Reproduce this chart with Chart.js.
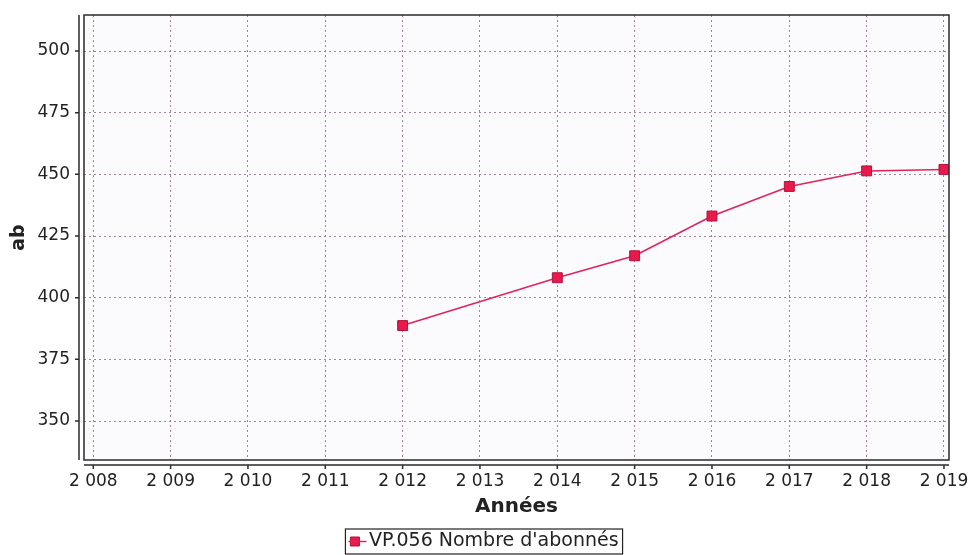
<!DOCTYPE html>
<html>
<head>
<meta charset="utf-8">
<script src="https://cdn.jsdelivr.net/npm/chart.js@4/dist/chart.umd.min.js"></script>
<style>
  html, body { margin: 0; padding: 0; background: #fff; }
  #wrap { width: 973px; height: 555px; }
</style>
</head>
<body>
<div id="wrap"><canvas id="chart" width="973" height="555"></canvas></div>
<script>
const years = [2012, 2014, 2015, 2016, 2017, 2018, 2019];
const subscribers = [388.7, 408.1, 417, 433.1, 445.1, 451.4, 452];
const seriesName = "VP.056 Nombre d'abonnés";
const xTitle = "Années";
const yTitle = "ab";

const font = "'DejaVu Sans', Verdana, sans-serif";

// thousands separated by a space, like "2 008"
function spaced(v) {
    return String(v).replace(/\B(?=(\d{3})+(?!\d))/g, " ");
}

// frame around the plot, detached axis lines and the legend box
const frame = {
    id: "frame",
    afterLayout(chart) {
        // nudge the legend a bit to the right, as in the original
        const lg = chart.legend;
        lg.left += 10;
        lg.right += 10;
        (lg.legendHitBoxes || []).forEach(b => { b.left += 10; });
    },
    beforeDraw(chart) {
        const { ctx, chartArea: a } = chart;
        ctx.save();
        ctx.fillStyle = "#fbfafd";
        ctx.fillRect(a.left, a.top, a.right - a.left, a.bottom - a.top);
        ctx.restore();
    },
    afterDraw(chart) {
        const { ctx, chartArea: a, scales } = chart;
        ctx.save();
        ctx.strokeStyle = "#2b2b2b";
        ctx.lineWidth = 1.5;
        ctx.strokeRect(a.left, a.top, a.right - a.left, a.bottom - a.top);

        // y axis line, shifted left of the frame
        const ax = a.left - 5;
        ctx.beginPath();
        ctx.moveTo(ax, a.top);
        ctx.lineTo(ax, a.bottom);
        scales.y.ticks.forEach(t => {
            const py = scales.y.getPixelForValue(t.value);
            ctx.moveTo(ax, py);
            ctx.lineTo(ax - 4, py);
        });
        // x axis line, shifted below the frame
        const ay = a.bottom + 5;
        ctx.moveTo(a.left, ay);
        ctx.lineTo(a.right, ay);
        scales.x.ticks.forEach(t => {
            const px = scales.x.getPixelForValue(t.value);
            ctx.moveTo(px, ay);
            ctx.lineTo(px, ay + 4);
        });
        ctx.stroke();

        // legend box
        const boxes = chart.legend.legendHitBoxes;
        if (boxes && boxes.length) {
            const b = boxes[0];
            const cy = b.top + b.height / 2;
            ctx.lineWidth = 1.2;
            ctx.strokeStyle = "#222";
            ctx.strokeRect(b.left - 5, cy - 12.5, b.width + 9, 25);
            // line through the marker
            ctx.strokeStyle = "#e0245a";
            ctx.lineWidth = 1.5;
            ctx.beginPath();
            ctx.moveTo(b.left - 2, cy);
            ctx.lineTo(b.left + 16, cy);
            ctx.stroke();
        }
        ctx.restore();
    }
};

const gridColor = "rgba(125, 95, 125, 0.75)";

new Chart(document.getElementById("chart"), {
    type: "line",
    data: {
        datasets: [{
            label: seriesName,
            data: years.map((y, i) => ({ x: y, y: subscribers[i] })),
            borderColor: "#e0245a",
            borderWidth: 1.5,
            backgroundColor: "#e8194b",
            pointStyle: "rect",
            pointRadius: 7,
            pointBorderColor: "#b80f3a",
            pointBorderWidth: 1,
            tension: 0
        }]
    },
    options: {
        responsive: false,
        animation: false,
        devicePixelRatio: 1,
        layout: { padding: { top: 15, right: 24, left: 0, bottom: -6 } },
        scales: {
            x: {
                type: "linear",
                min: 2007.88,
                max: 2019.065,
                grid: { color: gridColor, drawTicks: false, lineWidth: 1 },
                border: { display: false, dash: [2, 3] },
                ticks: {
                    stepSize: 1,
                    includeBounds: false,
                    padding: 11,
                    color: "#222",
                    font: { family: font, size: 17 },
                    callback: v => spaced(v),
                    maxRotation: 0
                },
                title: {
                    display: true,
                    text: xTitle,
                    color: "#222",
                    font: { family: font, size: 20, weight: "bold" },
                    padding: { top: 0, bottom: 3 }
                },
                afterFit(scale) {
                    scale.height = 62;
                    scale.paddingLeft = 0;
                    scale.paddingRight = 0;
                }
            },
            y: {
                min: 334.2,
                max: 514.6,
                grid: { color: gridColor, drawTicks: false, lineWidth: 1 },
                border: { display: false, dash: [2, 3] },
                ticks: {
                    stepSize: 25,
                    includeBounds: false,
                    padding: 14,
                    color: "#222",
                    font: { family: font, size: 17 }
                },
                title: {
                    display: true,
                    text: yTitle,
                    color: "#222",
                    font: { family: font, size: 19, weight: "bold" },
                    padding: { top: 8, bottom: 0 }
                },
                afterFit(scale) {
                    scale.width = 84;
                    scale.paddingTop = 0;
                    scale.paddingBottom = 0;
                }
            }
        },
        plugins: {
            legend: {
                position: "bottom",
                labels: {
                    usePointStyle: true,
                    pointStyle: "rect",
                    boxWidth: 9,
                    boxHeight: 9,
                    padding: 10,
                    color: "#222",
                    font: { family: font, size: 19 }
                }
            },
            tooltip: { enabled: false }
        }
    },
    plugins: [frame]
});
</script>
</body>
</html>
